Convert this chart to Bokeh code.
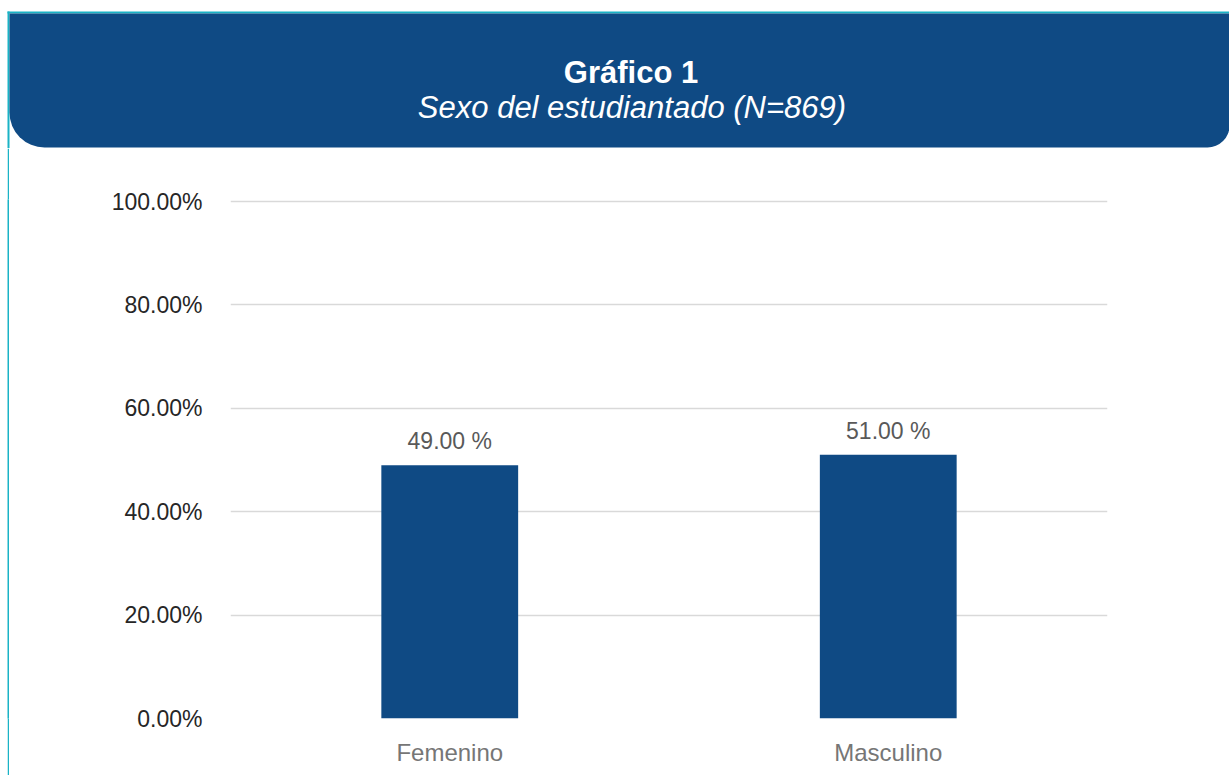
from bokeh.plotting import figure
from bokeh.models import (Range1d, FactorRange, BoxAnnotation, LabelSet, Spacer,
                          ColumnDataSource, NumeralTickFormatter, FixedTicker)
from bokeh.layouts import column, row
from bokeh.core.properties import value
from bokeh.embed import file_html
from bokeh.resources import INLINE

# ---- data ----
categories = ["Femenino", "Masculino"]
values = [0.49, 0.51]
y_ticks = [0.0, 0.2, 0.4, 0.6, 0.8, 1.0]
title_text = "Gráfico 1"
subtitle_text = "Sexo del estudiantado (N=869)"

NAVY = "#0f4a84"
TEAL = "#1ab3c6"
FONT = "Liberation Sans"

W = 1229
HH = 148
CH = 775 - HH
LW = 9


def bare(fig, bg="white"):
    fig.axis.visible = False
    fig.grid.visible = False
    fig.outline_line_color = None
    fig.background_fill_color = bg
    fig.border_fill_color = bg
    fig.title.visible = False


# ---- header ----
h = figure(width=W, height=HH, x_range=Range1d(0, W), y_range=Range1d(0, HH),
           toolbar_location=None, output_backend="svg", min_border=0)
bare(h)
h.add_layout(BoxAnnotation(left=7, right=W, top=137, bottom=135, fill_color=TEAL,
                           fill_alpha=1, line_color=None, level="underlay"))
h.add_layout(BoxAnnotation(left=7, right=9, top=137, bottom=0, fill_color=TEAL,
                           fill_alpha=1, line_color=None, level="underlay"))
h.add_layout(BoxAnnotation(left=9, right=W, top=135, bottom=1, fill_color=NAVY,
                           fill_alpha=1, line_color=None, border_radius=(0, 0, 22, 35),
                           level="underlay"))
hsrc = ColumnDataSource(dict(x=[630.5, 631.5], y=[76, 41], t=[title_text, subtitle_text],
                             st=["bold", "italic"]))
tr = h.text(x="x", y="y", text="t", source=hsrc, text_align="center",
            text_baseline="alphabetic", text_font=value(FONT), text_font_size=value("31px"),
            text_font_style="st", text_color="white")
tr.level = "overlay"

# ---- left teal strip ----
lf = figure(width=2, height=CH, toolbar_location=None, output_backend="svg", min_border=0)
bare(lf, TEAL)

# ---- chart ----
src = ColumnDataSource(dict(cat=categories, val=values,
                            lab=[f"{v * 100:.2f} %" for v in values]))
p = figure(width=W - LW, height=CH, x_range=FactorRange(*categories),
           y_range=Range1d(0, 1 + 2 / 517), toolbar_location=None, output_backend="svg",
           min_border_left=221, min_border_right=122, min_border_top=51,
           min_border_bottom=57)
p.title.visible = False
p.vbar(x="cat", top="val", width=0.312, source=src, fill_color=NAVY, line_color=None)
p.add_layout(LabelSet(x="cat", y="val", text="lab", source=src, text_align="center",
                      text_baseline="alphabetic", y_offset=16,
                      text_font=value(FONT), text_font_size=value("23px"),
                      text_color="#595959"))

p.yaxis.ticker = FixedTicker(ticks=y_ticks)
p.yaxis.formatter = NumeralTickFormatter(format="0.00%")
p.yaxis.major_label_text_font = FONT
p.yaxis.major_label_text_font_size = "23px"
p.yaxis.major_label_text_color = "#262626"
p.yaxis.major_label_standoff = 22
p.yaxis.major_tick_line_color = None
p.yaxis.minor_tick_line_color = None
p.yaxis.axis_line_color = None

p.xaxis.major_label_text_font = FONT
p.xaxis.major_label_text_font_size = "24px"
p.xaxis.major_label_text_color = "#767676"
p.xaxis.major_label_standoff = 14
p.xaxis.major_tick_line_color = None
p.xaxis.minor_tick_line_color = None
p.xaxis.axis_line_color = None

p.xgrid.grid_line_color = None
p.ygrid.grid_line_color = "#d9d9d9"
p.ygrid.grid_line_width = 1.5
p.outline_line_color = None
p.background_fill_color = "white"
p.border_fill_color = "white"

layout = column(h, row(Spacer(width=7, height=CH), lf, p))
open("out.html", "w").write(file_html(layout, INLINE))
